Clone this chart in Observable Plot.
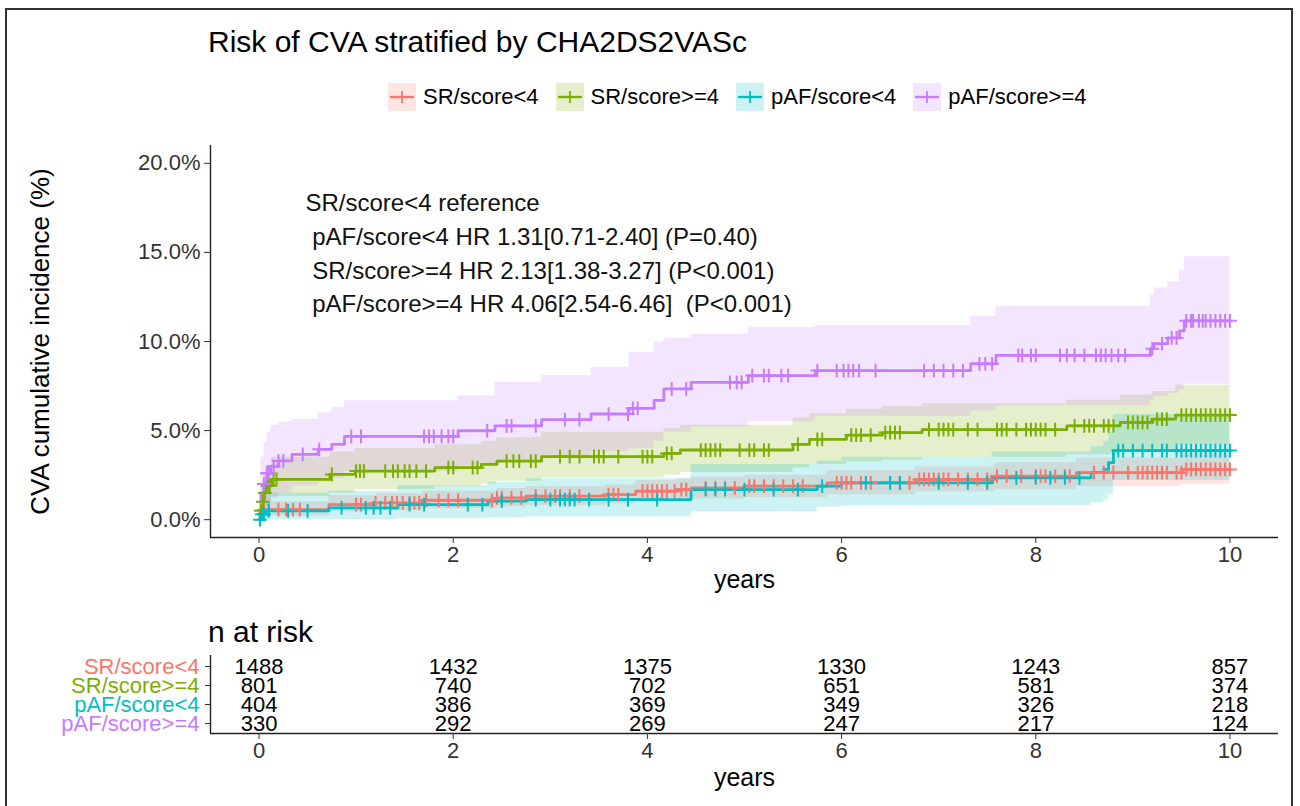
<!DOCTYPE html>
<html>
<head>
<meta charset="utf-8">
<script src="https://cdn.jsdelivr.net/npm/d3@7"></script>
<script src="https://cdn.jsdelivr.net/npm/@observablehq/plot@0.6"></script>
<style>
  body { margin: 0; background: #fff; font-family: "Liberation Sans", Arial, sans-serif; }
  #wrap { position: relative; width: 1300px; height: 806px; overflow: hidden; background: #fff; }
  #border { position: absolute; left: 5px; top: 8px; width: 1288px; height: 830px; border: 2px solid #333; box-sizing: border-box; }
  #title { position: absolute; left: 208px; top: 26px; font-size: 30px; line-height: 32px; color: #000; white-space: nowrap; }
  #legend { position: absolute; left: 388px; top: 83px; display: flex; align-items: center; gap: 17px; }
  .item { display: flex; align-items: center; gap: 7px; font-size: 22px; color: #000; white-space: nowrap; }
  #risktitle { position: absolute; left: 208px; top: 616px; font-size: 30px; line-height: 32px; color: #000; }
  #main { position: absolute; left: 0; top: 120px; }
  #table { position: absolute; left: 0; top: 600px; }
  svg text { white-space: pre; }
</style>
</head>
<body>
<div id="wrap">
  <div id="border"></div>
  <div id="title"></div>
  <div id="legend"></div>
  <div id="main"></div>
  <div id="risktitle"></div>
  <div id="table"></div>
</div>
<script>
// ---------------- DATA ----------------
const groups = ["SR/score<4", "SR/score>=4", "pAF/score<4", "pAF/score>=4"];
const colors = ["#F8766D", "#7CAE00", "#00BFC4", "#C77CFF"];

const titleText = "Risk of CVA stratified by CHA2DS2VASc";
const yTitle = "CVA cumulative incidence (%)";
const xTitle = "years";
const riskTitle = "n at risk";
const annotLines = [
  "SR/score<4 reference",
  " pAF/score<4 HR 1.31[0.71-2.40] (P=0.40)",
  " SR/score>=4 HR 2.13[1.38-3.27] (P<0.001)",
  " pAF/score>=4 HR 4.06[2.54-6.46]  (P<0.001)"
];

const xTicks = [0, 2, 4, 6, 8, 10];
const yTicks = [0, 5, 10, 15, 20];
const xDomain = [-0.5, 10.5];
const yDomain = [-1, 21];

// SR/score<4
const timeSR4 = [0, 0.02, 0.05, 0.72, 1.2, 1.68, 2.45, 2.75, 3.57, 3.88, 4.3, 4.45, 5.0, 5.85, 6.76, 7.58, 8.42, 9.51, 10];
const cumSR4  = [0, 0.3, 0.56, 0.85, 0.94, 1.09, 1.22, 1.32, 1.41, 1.6, 1.69, 1.78, 1.88, 2.07, 2.26, 2.45, 2.64, 2.82, 2.82];
const loSR4   = [0, 0.0, 0.2, 0.45, 0.5, 0.62, 0.72, 0.8, 0.88, 1.02, 1.1, 1.16, 1.25, 1.4, 1.55, 1.7, 1.85, 1.98, 1.98];
const hiSR4   = [0, 0.7, 1.0, 1.35, 1.45, 1.6, 1.75, 1.85, 1.95, 2.2, 2.3, 2.4, 2.5, 2.75, 2.95, 3.2, 3.45, 3.7, 3.7];
const censSR4 = [0.05, 0.1, 0.2, 0.28, 0.35, 0.42, 1.0, 1.05, 1.2, 1.3, 1.37, 1.42, 1.48, 1.55, 1.6, 1.65, 1.72, 1.85, 1.95, 2.05, 2.4, 2.45, 2.5, 2.6, 2.7, 2.85, 2.95, 3.05, 3.1, 3.2, 3.3, 3.6, 3.65, 3.7, 3.95, 4.0, 4.05, 4.1, 4.15, 4.2, 4.28, 4.35, 4.4, 4.6, 4.7, 4.8, 4.9, 5.05, 5.1, 5.2, 5.3, 5.4, 5.5, 5.6, 5.95, 6.0, 6.05, 6.1, 6.2, 6.3, 6.5, 6.6, 6.7, 6.8, 6.85, 6.9, 6.95, 7.0, 7.05, 7.1, 7.2, 7.3, 7.4, 7.5, 7.6, 7.7, 7.85, 8.0, 8.05, 8.1, 8.2, 8.3, 8.35, 8.6, 8.7, 8.8, 8.95, 9.05, 9.1, 9.15, 9.2, 9.25, 9.3, 9.35, 9.45, 9.5, 9.55, 9.6, 9.65, 9.7, 9.75, 9.8, 9.85, 9.9, 9.95, 10.0];

// SR/score>=4
const timeSR4p = [0, 0.01, 0.03, 0.05, 0.08, 0.13, 0.73, 0.99, 1.81, 2.29, 2.45, 2.91, 4.17, 4.34, 5.5, 5.67, 6.05, 6.42, 6.83, 8.32, 8.87, 9.2, 9.44, 10];
const cumSR4p  = [0, 0.5, 1.0, 1.5, 1.9, 2.26, 2.54, 2.73, 2.92, 3.1, 3.29, 3.54, 3.72, 3.91, 4.23, 4.51, 4.74, 4.89, 5.05, 5.27, 5.46, 5.64, 5.87, 5.87];
const loSR4p   = [0, 0.1, 0.35, 0.7, 1.0, 1.3, 1.5, 1.7, 1.85, 2.0, 2.15, 2.35, 2.5, 2.65, 2.9, 3.1, 3.25, 3.35, 3.5, 3.65, 3.8, 3.95, 4.2, 4.2];
const hiSR4p   = [0, 1.2, 1.9, 2.5, 3.0, 3.5, 3.8, 4.0, 4.2, 4.4, 4.6, 4.9, 5.1, 5.3, 5.7, 5.95, 6.2, 6.35, 6.5, 6.7, 7.0, 7.2, 7.55, 7.55];
const censSR4p = [0.02, 0.04, 0.06, 0.09, 0.11, 0.15, 0.18, 0.75, 1.0, 1.04, 1.08, 1.3, 1.38, 1.43, 1.5, 1.55, 1.62, 1.72, 1.95, 2.0, 2.2, 2.25, 2.55, 2.62, 2.68, 2.8, 2.85, 3.1, 3.2, 3.3, 3.45, 3.5, 3.55, 3.7, 3.95, 4.0, 4.05, 4.2, 4.25, 4.55, 4.6, 4.65, 4.7, 4.75, 4.95, 5.05, 5.1, 5.2, 5.25, 5.55, 5.75, 5.8, 6.1, 6.15, 6.2, 6.3, 6.45, 6.5, 6.55, 6.6, 6.9, 7.0, 7.05, 7.1, 7.15, 7.3, 7.4, 7.6, 7.65, 7.7, 7.8, 7.9, 7.95, 8.0, 8.05, 8.1, 8.2, 8.4, 8.5, 8.55, 8.6, 8.7, 8.75, 8.8, 8.95, 9.0, 9.05, 9.1, 9.15, 9.25, 9.3, 9.35, 9.5, 9.55, 9.6, 9.65, 9.7, 9.75, 9.8, 9.85, 9.9, 9.95, 10.0];

// pAF/score<4
const timePAF4 = [0, 0.03, 0.07, 0.72, 1.43, 2.36, 2.75, 4.45, 5.75, 6.0, 7.55, 8.57, 8.7, 8.75, 8.8, 10];
const cumPAF4  = [0, 0.3, 0.49, 0.66, 0.85, 1.04, 1.13, 1.69, 1.88, 2.07, 2.35, 2.64, 2.82, 3.2, 3.88, 3.88];
const loPAF4   = [0, 0, 0, 0, 0.05, 0.1, 0.15, 0.45, 0.7, 0.77, 0.8, 0.94, 1.1, 1.4, 2.2, 2.2];
const hiPAF4   = [0, 1.0, 1.5, 1.6, 1.9, 2.1, 2.3, 3.1, 3.3, 3.5, 3.8, 4.1, 4.4, 4.9, 5.9, 5.9];
const censPAF4 = [0.01, 0.03, 0.05, 0.1, 0.3, 0.5, 0.85, 1.1, 1.18, 1.25, 1.35, 1.55, 1.7, 2.15, 2.3, 2.5, 2.85, 3.0, 3.1, 3.15, 3.2, 3.25, 3.4, 3.6, 3.8, 4.1, 4.6, 4.7, 4.8, 5.0, 5.3, 5.55, 5.8, 6.25, 6.5, 6.6, 7.0, 7.3, 7.5, 7.8, 8.0, 8.15, 8.3, 8.45, 8.85, 8.9, 9.0, 9.1, 9.2, 9.3, 9.35, 9.45, 9.5, 9.55, 9.6, 9.65, 9.7, 9.75, 9.8, 9.85, 9.9, 9.95, 10.0];

// pAF/score>=4
const timePAF4p = [0, 0.02, 0.05, 0.08, 0.12, 0.2, 0.34, 0.61, 0.75, 0.88, 2.05, 2.43, 2.91, 3.42, 3.81, 4.07, 4.17, 4.45, 5.04, 5.73, 7.33, 7.59, 9.18, 9.22, 9.36, 9.48, 9.53, 10];
const cumPAF4p  = [0, 1.5, 2.0, 2.6, 3.0, 3.3, 3.67, 3.95, 4.23, 4.67, 4.99, 5.27, 5.61, 5.93, 6.25, 6.7, 7.34, 7.71, 8.09, 8.37, 8.75, 9.22, 9.6, 9.88, 10.2, 10.6, 11.16, 11.16];
const loPAF4p   = [0, 0.3, 0.6, 0.9, 1.2, 1.5, 1.9, 2.1, 2.3, 2.7, 3.0, 3.2, 3.5, 3.8, 4.0, 4.4, 4.9, 5.2, 5.5, 5.8, 6.1, 6.4, 6.7, 6.9, 7.1, 7.3, 7.6, 7.6];
const hiPAF4p   = [0, 3.5, 4.3, 4.9, 5.3, 5.5, 5.64, 6.0, 6.3, 6.68, 6.96, 7.71, 8.09, 8.56, 9.4, 9.97, 10.2, 10.4, 10.8, 10.9, 11.4, 11.97, 12.6, 13.0, 13.36, 14.0, 14.76, 14.76];
const censPAF4p = [0.05, 0.08, 0.1, 0.15, 0.2, 0.25, 0.45, 0.62, 0.95, 1.05, 1.7, 1.75, 1.8, 1.88, 1.95, 2.0, 2.35, 2.55, 2.6, 2.85, 3.15, 3.3, 3.6, 3.8, 3.85, 3.9, 4.25, 4.4, 4.85, 4.92, 4.97, 5.08, 5.2, 5.25, 5.38, 5.45, 5.75, 5.95, 6.02, 6.07, 6.12, 6.18, 6.35, 6.85, 6.95, 7.05, 7.15, 7.25, 7.42, 7.48, 7.55, 7.82, 7.86, 7.95, 8.0, 8.25, 8.32, 8.4, 8.5, 8.62, 8.67, 8.72, 8.78, 8.85, 8.92, 9.2, 9.3, 9.4, 9.45, 9.55, 9.6, 9.62, 9.68, 9.72, 9.75, 9.8, 9.85, 9.9, 9.95, 10.0];

// number at risk
const riskTimes = [0, 2, 4, 6, 8, 10];
const nRiskSR4   = [1488, 1432, 1375, 1330, 1243, 857];
const nRiskSR4p  = [801, 740, 702, 651, 581, 374];
const nRiskPAF4  = [404, 386, 369, 349, 326, 218];
const nRiskPAF4p = [330, 292, 269, 247, 217, 124];

// ---------------- BUILD ----------------
const FONT = '"Liberation Sans", Arial, sans-serif';
const series = [
  {group: groups[0], t: timeSR4, est: cumSR4, lo: loSR4, hi: hiSR4, cens: censSR4},
  {group: groups[1], t: timeSR4p, est: cumSR4p, lo: loSR4p, hi: hiSR4p, cens: censSR4p},
  {group: groups[2], t: timePAF4, est: cumPAF4, lo: loPAF4, hi: hiPAF4, cens: censPAF4},
  {group: groups[3], t: timePAF4p, est: cumPAF4p, lo: loPAF4p, hi: hiPAF4p, cens: censPAF4p}
];
const curveRows = series.flatMap(s => s.t.map((t, i) => ({group: s.group, t, est: s.est[i], lo: s.lo[i], hi: s.hi[i]})));
const censRows = series.flatMap(s => s.cens.map(t => ({group: s.group, t, v: s.est[Math.max(0, d3.bisectRight(s.t, t) - 1)]})));
const nRisk = [nRiskSR4, nRiskSR4p, nRiskPAF4, nRiskPAF4p];
const riskRows = groups.flatMap((g, i) => riskTimes.map((t, j) => ({group: g, t, n: nRisk[i][j]})));

document.getElementById("title").textContent = titleText;
document.getElementById("risktitle").textContent = riskTitle;

// legend
const legend = document.getElementById("legend");
groups.forEach((g, i) => {
  const item = document.createElement("div");
  item.className = "item";
  item.innerHTML = `<svg width="28" height="28"><rect x="0" y="0" width="28" height="28" fill="${colors[i]}" fill-opacity="0.2"></rect>
    <line x1="2" x2="26" y1="14" y2="14" stroke="${colors[i]}" stroke-width="2.4"></line>
    <line x1="14" x2="14" y1="8" y2="20" stroke="${colors[i]}" stroke-width="1.8"></line></svg>`;
  const span = document.createElement("span");
  span.textContent = g;
  item.appendChild(span);
  legend.appendChild(item);
});

const main = Plot.plot({
  width: 1300, height: 480,
  marginLeft: 210, marginRight: 22, marginTop: 25, marginBottom: 63,
  x: {domain: xDomain},
  y: {domain: yDomain},
  color: {domain: groups, range: colors},
  style: {fontFamily: FONT, fontSize: "22px", background: "transparent", color: "#333", overflow: "visible"},
  marks: [
    Plot.areaY(curveRows, {x: "t", y1: "lo", y2: "hi", z: "group", fill: "group", fillOpacity: 0.2, curve: "step-after"}),
    Plot.line(curveRows, {x: "t", y: "est", z: "group", stroke: "group", strokeWidth: 2.8, curve: "step-after"}),
    Plot.dot(censRows, {x: "t", y: "v", stroke: "group", symbol: "plus", r: 4.5, strokeWidth: 2}),
    Plot.ruleX([xDomain[0]], {stroke: "#222", strokeWidth: 1.4}),
    Plot.ruleY([yDomain[0]], {stroke: "#222", strokeWidth: 1.4}),
    Plot.axisX({ticks: xTicks, tickSize: 6, tickPadding: 3, fontSize: 22, label: null, color: "#333"}),
    Plot.axisY({ticks: yTicks, tickFormat: d => d.toFixed(1) + "%", tickSize: 6, tickPadding: 4, fontSize: 22, label: null, color: "#333"}),
    Plot.text([yTitle], {text: d => d, frameAnchor: "left", dx: -170, rotate: -90, textAnchor: "middle", fontSize: 26, fill: "#000"}),
    Plot.text([xTitle], {text: d => d, frameAnchor: "bottom", dy: 50, fontSize: 25, fill: "#000"}),
    Plot.text([annotLines.join("\n")], {text: d => d, frameAnchor: "top-left", dx: 95, dy: 42, textAnchor: "start", lineAnchor: "top", lineHeight: 1.4, fontSize: 24, fill: "#111"})
  ]
});
document.getElementById("main").appendChild(main);

const table = Plot.plot({
  width: 1300, height: 200,
  marginLeft: 210, marginRight: 22, marginTop: 55, marginBottom: 67,
  x: {domain: xDomain},
  y: {type: "point", domain: groups, range: [66, 123], padding: 0},
  color: {domain: groups, range: colors},
  style: {fontFamily: FONT, fontSize: "22px", background: "transparent", color: "#333"},
  marks: [
    Plot.ruleX([xDomain[0]], {stroke: "#222", strokeWidth: 1.4}),
    Plot.ruleY([groups[groups.length - 1]], {y: d => d, dy: 10, stroke: "#222", strokeWidth: 1.6}),
    Plot.axisX({ticks: xTicks, tickSize: 6, tickPadding: 3, fontSize: 22, label: null, color: "#333"}),
    Plot.axisY({tickSize: 5, tickFormat: () => "", label: null, color: "#333"}),
    Plot.text(riskRows, {x: "t", y: "group", text: d => String(d.n), fontSize: 22, fill: "#000"}),
    Plot.text(groups, {y: d => d, text: d => d, frameAnchor: "left", dx: -11, textAnchor: "end", fill: d => d, fontSize: 22}),
    Plot.text([xTitle], {text: d => d, frameAnchor: "bottom", dy: 52, fontSize: 25, fill: "#000"})
  ]
});
document.getElementById("table").appendChild(table);
</script>
</body>
</html>
